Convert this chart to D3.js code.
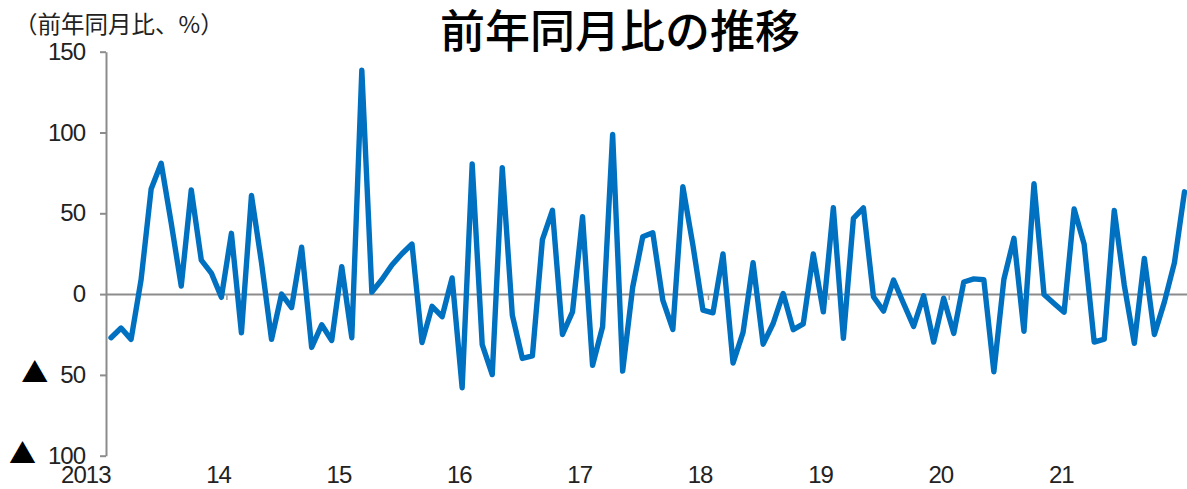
<!DOCTYPE html>
<html>
<head>
<meta charset="utf-8">
<script src="https://cdn.jsdelivr.net/npm/d3@7"></script>
<style>
  body { margin: 0; background: #fff; }
  text { font-family: "Liberation Sans", Arial, sans-serif; }
  .jp { font-family: "Noto Sans CJK JP", "Noto Sans", sans-serif; }
</style>
</head>
<body>
<svg id="chart"></svg>
<script>
var w = 1187; // width of the picture
var h = 489;  // height of the picture

// year labels on the bottom
var yearLabels = ["2013", "14", "15", "16", "17", "18", "19", "20", "21"];

// monthly values (前年同月比, %)
var v2013 = [-27, -21, -28, 9, 65, 81, 44, 5, 64.5, 21, 13, -2];
var v2014 = [37.6, -24, 61, 19.5, -28, 0, -8.3, 29, -33, -19, -28.7, 17];
var v2015 = [-27, 138.5, 1.2, 9, 18, 25, 31, -30, -7.6, -14, 10, -58];
var v2016 = [80.5, -31.3, -49.8, 78.2, -13, -39.8, -38.3, 33.7, 51.8, -25, -11, 47.9];
var v2017 = [-44, -20.2, 98.8, -47.6, 4.3, 35.5, 38, -3.7, -21.9, 66.4, 30.3, -9.9];
var v2018 = [-11.6, 24.8, -42.7, -23.7, 19.4, -31, -18.2, 0.4, -22, -18.4, 24.8, -11];
var v2019 = [53.5, -27.4, 46.8, 53.3, -1.6, -10.5, 8.7, -5.8, -20, -1, -29.7, -2.5];
var v2020 = [-24.3, 7.5, 9.4, 8.9, -48.1, 9.2, 34.5, -23, 68.3, -0.3, -5.8, -11.2];
var v2021 = [52.7, 30.8, -29.7, -27.9, 51.8, 5.5, -30.5, 22.1, -25, -4.8, 19.5, 63.3];

// y axis ticks
var yTicks = [-100, -50, 0, 50, 100, 150];

var title = "前年同月比の推移";
var unitLabel = "（前年同月比、%）";

// join the years into one series
var yearly = [v2013, v2014, v2015, v2016, v2017, v2018, v2019, v2020, v2021];
var data = [];
yearly.forEach(function(arr, yi) {
  arr.forEach(function(v, m) {
    data.push({ key: yearLabels[yi] + "-" + (m + 1), value: v });
  });
});

// plot area (window.top is read-only, so no "top" here)
var plotL = 106, plotR = 1189.5, plotT = 51.7, plotB = 455.7;

var svg = d3.select("#chart")
  .attr("width", w)
  .attr("height", h);

// band scale for the months, linear scale for the year boundaries
var x = d3.scaleBand()
  .domain(data.map(function(d) { return d.key; }))
  .range([plotL, plotR])
  .padding(0);

var xEdge = d3.scaleLinear()
  .domain([0, data.length])
  .range([plotL, plotR]);

var y = d3.scaleLinear()
  .domain([-100, 150])
  .range([plotB, plotT]);

// y axis
var yAxis = svg.append("g")
  .attr("transform", "translate(" + plotL + ",0)")
  .call(d3.axisLeft(y).tickValues(yTicks).tickSize(6).tickSizeOuter(0).tickPadding(15));

yAxis.select(".domain").attr("stroke", "#8c8c8c").attr("stroke-width", 2);
yAxis.selectAll(".tick line").attr("stroke", "#8c8c8c").attr("stroke-width", 2);
yAxis.selectAll(".tick text")
  .attr("fill", "#222")
  .style("font-size", "24px")
  .style("letter-spacing", "-1px")
  .each(function(d) {
    var t = d3.select(this);
    if (d < 0) {
      t.text(null);
      t.append("tspan")
        .attr("class", "jp")
        .style("font-size", "27px")
        .style("letter-spacing", "0px")
        .attr("fill", "#000")
        .text("▲");
      t.append("tspan")
        .attr("dx", 12)
        .text(String(-d));
    } else {
      t.text(String(d));
    }
  });

// zero line with year ticks
var xAxis = svg.append("g")
  .attr("transform", "translate(0," + y(0) + ")")
  .call(d3.axisBottom(xEdge)
    .tickValues(d3.range(12, data.length, 12))
    .tickSize(6)
    .tickSizeOuter(0)
    .tickFormat(""));

xAxis.select(".domain").attr("stroke", "#8c8c8c").attr("stroke-width", 2);
xAxis.selectAll(".tick line").attr("stroke", "#a0a0a0").attr("stroke-width", 1.5);

// year labels at the bottom
var xLabels = svg.append("g")
  .attr("transform", "translate(0," + plotB + ")")
  .call(d3.axisBottom(xEdge)
    .tickValues(d3.range(0, data.length, 12))
    .tickSize(0)
    .tickPadding(10)
    .tickFormat(function(d, i) { return yearLabels[i]; }));

xLabels.select(".domain").remove();
xLabels.selectAll(".tick text")
  .attr("text-anchor", "end")
  .attr("dx", 4)
  .attr("fill", "#222")
  .style("font-size", "24px")
  .style("letter-spacing", "-1px");

// the line
var line = d3.line()
  .x(function(d) { return x(d.key) + x.bandwidth() / 2; })
  .y(function(d) { return y(d.value); });

svg.append("path")
  .datum(data)
  .attr("d", line)
  .attr("fill", "none")
  .attr("stroke", "#0070c0")
  .attr("stroke-width", 5.4)
  .attr("stroke-linejoin", "round")
  .attr("stroke-linecap", "round");

// title and unit
svg.append("text")
  .attr("class", "jp")
  .attr("x", 620)
  .attr("y", 48)
  .attr("text-anchor", "middle")
  .style("font-size", "45px")
  .style("font-weight", 500)
  .attr("fill", "#000")
  .text(title);

svg.append("text")
  .attr("class", "jp")
  .attr("x", 14)
  .attr("y", 33)
  .style("font-size", "23.5px")
  .attr("fill", "#222")
  .text(unitLabel);
</script>
</body>
</html>
